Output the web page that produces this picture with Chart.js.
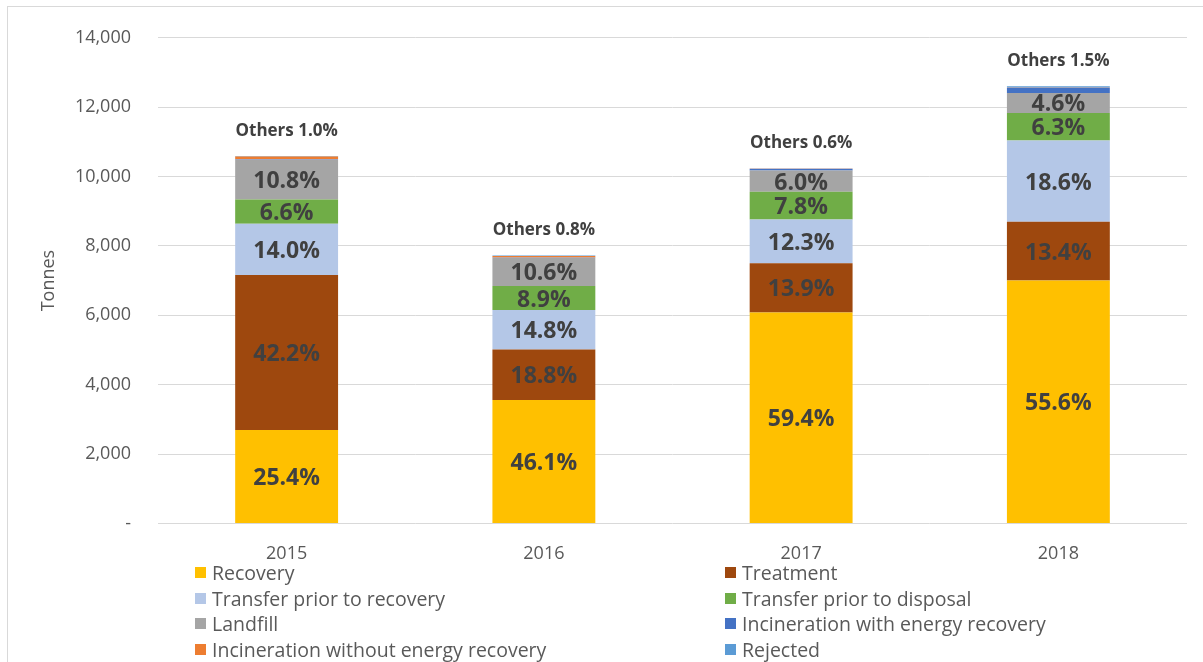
<!DOCTYPE html>
<html>
<head>
<meta charset="utf-8">
<script src="https://cdn.jsdelivr.net/npm/chart.js@4.4.0/dist/chart.umd.min.js"></script>
<style>
  body { margin: 0; background: #fff; font-family: "Open Sans", sans-serif; }
  #frame { position: absolute; left: 7px; top: 6px; width: 1196px; height: 656px;
           border-top: 1px solid #d9d9d9; border-left: 1px solid #d9d9d9; }
  #wrap { position: absolute; left: 0; top: 0; width: 1203px; height: 580px; }
  #legend { position: absolute; left: 195px; top: 559px; width: 1000px; }
  #legend .item { position: absolute; display: flex; align-items: center;
                  font-size: 19.5px; color: #595959; white-space: nowrap; }
  #legend .box { width: 11px; height: 11px; margin-right: 6px; }
</style>
</head>
<body>
<div id="frame"></div>
<div id="wrap"><canvas id="chart"></canvas></div>
<div id="legend"></div>
<script>
// Años
const years = ['2015', '2016', '2017', '2018'];

// Toneladas por destino
const recovery          = [2690, 3560, 6080, 7006];
const treatment         = [4470, 1452, 1423, 1688];
const transferRecovery  = [1480, 1143, 1259, 2344];
const transferDisposal  = [700, 687, 798, 794];
const landfill          = [1145, 818, 614, 580];
const incinerationEnergy   = [10, 5, 50, 150];
const incinerationNoEnergy = [80, 45, 5, 5];
const rejected          = [15, 12, 6, 35];

const yTicks = [0, 2000, 4000, 6000, 8000, 10000, 12000, 14000];

const series = [
  { label: 'Recovery', data: recovery, color: '#FFC000' },
  { label: 'Treatment', data: treatment, color: '#9E480E' },
  { label: 'Transfer prior to recovery', data: transferRecovery, color: '#B4C7E7' },
  { label: 'Transfer prior to disposal', data: transferDisposal, color: '#70AD47' },
  { label: 'Landfill', data: landfill, color: '#A5A5A5' },
  { label: 'Incineration with energy recovery', data: incinerationEnergy, color: '#4472C4' },
  { label: 'Incineration without energy recovery', data: incinerationNoEnergy, color: '#ED7D31' },
  { label: 'Rejected', data: rejected, color: '#5B9BD5' }
];

const totals = years.map((y, i) => series.reduce((s, d) => s + d.data[i], 0));

// Etiquetas de porcentaje dentro de las barras y "Others" arriba
const etiquetas = {
  id: 'etiquetas',
  afterDatasetsDraw(chart) {
    const ctx = chart.ctx;
    ctx.save();
    ctx.textAlign = 'center';
    ctx.textBaseline = 'middle';
    ctx.fillStyle = '#404040';
    ctx.font = 'bold 23px "Open Sans"';
    for (let d = 0; d < 5; d++) {
      chart.getDatasetMeta(d).data.forEach((bar, i) => {
        const pct = series[d].data[i] / totals[i] * 100;
        ctx.fillText(pct.toFixed(1) + '%', bar.x, (bar.y + bar.base) / 2 + 2);
      });
    }
    ctx.font = 'bold 17px "Open Sans"';
    const top = chart.getDatasetMeta(series.length - 1).data;
    top.forEach((bar, i) => {
      const otros = incinerationEnergy[i] + incinerationNoEnergy[i] + rejected[i];
      const pct = otros / totals[i] * 100;
      ctx.fillText('Others ' + pct.toFixed(1) + '%', bar.x, bar.y - 25);
    });
    ctx.restore();
  }
};

const ctx = document.getElementById('chart').getContext('2d');
const grafico = new Chart(ctx, {
  type: 'bar',
  data: {
    labels: years,
    datasets: series.map(s => ({
      label: s.label,
      data: s.data,
      backgroundColor: s.color,
      borderWidth: 0,
      barPercentage: 0.4,
      categoryPercentage: 1.0
    }))
  },
  options: {
    responsive: true,
    maintainAspectRatio: false,
    animation: false,
    layout: { padding: { top: 31, right: 16, bottom: 3, left: 0 } },
    scales: {
      x: {
        stacked: true,
        grid: { display: false },
        border: { display: false },
        ticks: { color: '#595959', font: { family: 'Open Sans', size: 18 }, padding: 12 }
      },
      y: {
        stacked: true,
        min: 0,
        max: 14000,
        afterBuildTicks: scale => { scale.ticks = yTicks.map(v => ({ value: v })); },
        afterFit: scale => { scale.width = 158; },
        grid: { color: '#d9d9d9', drawTicks: false },
        border: { display: false },
        ticks: {
          color: '#595959',
          font: { family: 'Open Sans', size: 18 },
          padding: 27,
          callback: v => v === 0 ? '-' : v.toLocaleString('en-US')
        },
        title: {
          display: true,
          text: 'Tonnes',
          color: '#595959',
          font: { family: 'Open Sans', size: 18 },
          padding: { top: 38, bottom: 0 }
        }
      }
    },
    plugins: {
      legend: { display: false },
      tooltip: { enabled: false }
    }
  },
  plugins: [etiquetas]
});

// Leyenda en dos columnas
const legendDiv = document.getElementById('legend');
series.forEach((s, i) => {
  const item = document.createElement('div');
  item.className = 'item';
  item.style.left = (i % 2 === 0 ? 0 : 530) + 'px';
  item.style.top = (Math.floor(i / 2) * 25.7) + 'px';
  item.innerHTML = `<span class="box" style="background:${s.color}"></span>${s.label}`;
  legendDiv.appendChild(item);
});
</script>
</body>
</html>
